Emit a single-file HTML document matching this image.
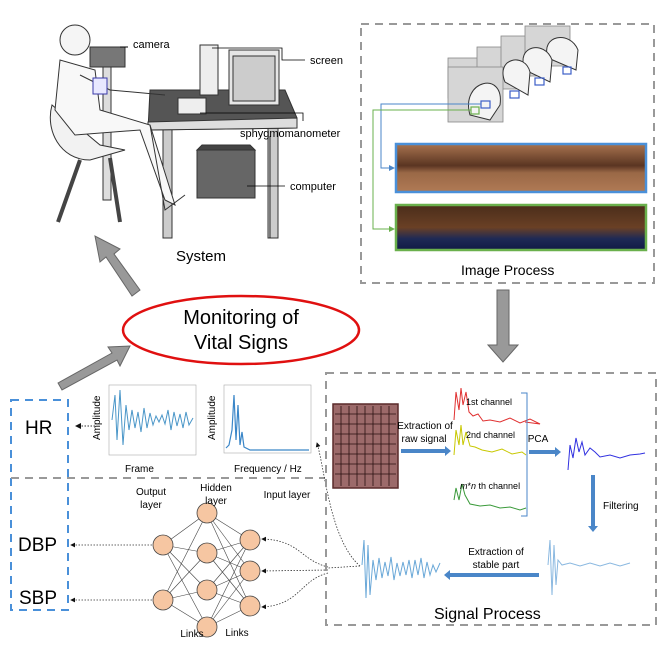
<!DOCTYPE html>
<html><head><meta charset="utf-8"><style>
body{margin:0;background:#fff}
svg{display:block;font-family:"Liberation Sans",sans-serif}
</style></head><body>
<svg width="664" height="664" viewBox="0 0 664 664" xmlns="http://www.w3.org/2000/svg">
<defs>
<marker id="ah" markerWidth="6" markerHeight="6" refX="5" refY="3" orient="auto"><path d="M0,0L6,3L0,6z" fill="#111"/></marker>
<marker id="bh" markerWidth="6" markerHeight="6" refX="5" refY="3" orient="auto"><path d="M0,0L6,3L0,6z" fill="#4a86c8"/></marker>
<marker id="gh" markerWidth="6" markerHeight="6" refX="5" refY="3" orient="auto"><path d="M0,0L6,3L0,6z" fill="#6ab04c"/></marker>
<linearGradient id="br" x1="0" y1="0" x2="0" y2="1"><stop offset="0" stop-color="#a8734f"/><stop offset=".45" stop-color="#5a3522"/><stop offset=".6" stop-color="#9a6846"/><stop offset="1" stop-color="#b07a55"/></linearGradient>
<linearGradient id="bg2" x1="0" y1="0" x2="0" y2="1"><stop offset="0" stop-color="#4a2d1a"/><stop offset=".5" stop-color="#6a4025"/><stop offset=".75" stop-color="#1e2a55"/><stop offset="1" stop-color="#101a45"/></linearGradient>
</defs>

<!-- SYSTEM illustration -->
<g stroke="#333" stroke-width="1">
<rect x="163" y="128" width="9" height="110" fill="#ccc"/>
<rect x="268" y="128" width="10" height="110" fill="#ccc"/>
<polygon points="150,90 285,90 297,118 297,128 148,130" fill="#555"/>
<polygon points="148,122 297,118 297,128 148,130" fill="#ddd"/>
<rect x="197" y="150" width="58" height="48" fill="#666"/>
<polygon points="197,150 255,150 250,145 202,145" fill="#444"/>
<rect x="200" y="45" width="18" height="50" fill="#eee"/>
<rect x="229" y="50" width="50" height="55" fill="#e6e6e6"/>
<rect x="233" y="56" width="42" height="45" fill="#ccc"/>
<rect x="178" y="98" width="28" height="16" fill="#eee"/>
<rect x="90" y="47" width="35" height="20" fill="#777"/>
<rect x="103" y="67" width="8" height="133" fill="#ddd"/>
<path d="M52,105 C45,130 60,160 90,160 L125,150 L100,145 Z" fill="#f2f2f2"/>
<line x1="80" y1="160" x2="58" y2="222" stroke="#444" stroke-width="4"/>
<line x1="110" y1="158" x2="120" y2="222" stroke="#444" stroke-width="4"/>
<circle cx="75" cy="40" r="15" fill="#f5f5f5"/>
<path d="M60,60 L55,110 L75,135 L140,130 L165,200 L175,205 L150,125 L100,110 L95,70 Z" fill="#f8f8f8"/>
<path d="M80,75 L110,90 L165,95" fill="none"/>
<rect x="93" y="78" width="14" height="16" fill="#e8e8ff" stroke="#3a3aaa"/>
<path d="M150,125 L165,210 L185,195" fill="none"/>
</g>
<line x1="120" y1="47" x2="128" y2="47" stroke="#000"/>
<text x="133" y="48" font-size="11">camera</text>
<path d="M212,48 L282,48 L282,60 L305,60" fill="none" stroke="#000" stroke-width=".8"/>
<text x="310" y="64" font-size="11">screen</text>
<path d="M200,113 L303,113 L303,121" fill="none" stroke="#000" stroke-width=".8"/>
<text x="240" y="137" font-size="11">sphygmomanometer</text>
<line x1="270" y1="136" x2="270" y2="238" stroke="#000" stroke-width=".8"/>
<line x1="247" y1="186" x2="285" y2="186" stroke="#000" stroke-width=".8"/>
<text x="290" y="190" font-size="11">computer</text>
<text x="176" y="261" font-size="15">System</text>

<!-- Image Process box -->
<rect x="361" y="24" width="293" height="259" fill="none" stroke="#999" stroke-width="2" stroke-dasharray="8,6"/>
<g stroke="#888" stroke-width=".8">
<rect x="448" y="58" width="46" height="40" fill="#d6d6d6"/>
<rect x="477" y="47" width="48" height="42" fill="#d6d6d6"/>
<rect x="501" y="36" width="38" height="40" fill="#d6d6d6"/>
<rect x="525" y="26" width="45" height="40" fill="#d6d6d6"/>
<rect x="448" y="67" width="55" height="55" fill="#d6d6d6"/>
</g>
<g fill="#f4f4f4" stroke="#333" stroke-width="1">
<path d="M548,58 C540,35 570,30 578,50 L576,70 Z"/>
<path d="M525,70 C515,45 545,40 552,60 L550,82 Z"/>
<path d="M505,82 C495,58 525,52 530,72 L528,95 Z"/>
<path d="M470,115 C460,80 505,70 500,105 L490,120 Z"/>
</g>
<g fill="none" stroke="#3d5fc7" stroke-width="1.2">
<rect x="563" y="67" width="8" height="7"/><rect x="535" y="78" width="9" height="7"/><rect x="510" y="91" width="9" height="7"/><rect x="481" y="101" width="9" height="7"/>
</g>
<rect x="471" y="107" width="8" height="7" fill="none" stroke="#6ab04c" stroke-width="1.2"/>
<path d="M481,104 L381,104 L381,168 L394,168" fill="none" stroke="#4a86c8" stroke-width="1" marker-end="url(#bh)"/>
<path d="M471,110 L373,110 L373,229 L394,229" fill="none" stroke="#6ab04c" stroke-width="1" marker-end="url(#gh)"/>
<rect x="396" y="144" width="250" height="48" fill="url(#br)" stroke="#4a90d9" stroke-width="2.5"/>
<rect x="396" y="205" width="250" height="45" fill="url(#bg2)" stroke="#6ab04c" stroke-width="2.5"/>
<text x="461" y="275" font-size="14">Image Process</text>

<!-- gray arrows -->
<polygon points="140,290 114,254 120,249 95,236 100,262 106,257 132,296" fill="#999" stroke="#666"/>
<polygon points="58,383 112,353 108,347 130,346 120,366 117,360 62,390" fill="#999" stroke="#666"/>
<polygon points="497,290 509,290 509,345 518,345 503,362 488,345 497,345" fill="#999" stroke="#666"/>

<!-- ellipse -->
<ellipse cx="241" cy="330" rx="118" ry="34" fill="#fff" stroke="#e01010" stroke-width="2.5"/>
<text x="241" y="324" font-size="20" text-anchor="middle">Monitoring of</text>
<text x="241" y="349" font-size="20" text-anchor="middle">Vital Signs</text>

<!-- left boxes -->
<rect x="11" y="400" width="57" height="210" fill="none" stroke="#4a90d9" stroke-width="2" stroke-dasharray="8,6"/>
<line x1="11" y1="478" x2="325" y2="478" stroke="#999" stroke-width="2" stroke-dasharray="8,6"/>
<text x="25" y="434" font-size="19">HR</text>
<text x="18" y="551" font-size="19">DBP</text>
<text x="19" y="604" font-size="19">SBP</text>

<!-- charts -->
<rect x="109" y="385" width="87" height="70" fill="none" stroke="#aaa" stroke-width=".6"/>
<polyline fill="none" stroke="#4a96c8" stroke-width="1" points="112,420 115,395 117,440 120,390 123,445 126,405 129,430 132,410 135,428 138,412 141,432 144,408 147,428 150,413 153,425 156,416 159,422 162,415 165,424 168,410 171,430 174,412 177,426 180,414 183,428 186,412 189,425 193,418"/>
<text x="125" y="472" font-size="10">Frame</text>
<text x="100" y="440" font-size="10" transform="rotate(-90 100 440)">Amplitude</text>
<rect x="224" y="385" width="87" height="68" fill="none" stroke="#aaa" stroke-width=".6"/>
<polyline fill="none" stroke="#3a86c8" stroke-width="1.2" points="226,448 229,445 232,430 234,395 236,440 238,405 240,445 242,432 244,447 250,450 309,450"/>
<text x="234" y="472" font-size="10">Frequency / Hz</text>
<text x="215" y="440" font-size="10" transform="rotate(-90 215 440)">Amplitude</text>
<line x1="95" y1="426" x2="76" y2="426" stroke="#333" stroke-dasharray="1.5,1.5" marker-end="url(#ah)"/>

<!-- NN -->
<g stroke="#444" stroke-width=".6">
<line x1="163" y1="545" x2="207" y2="513"/><line x1="163" y1="545" x2="207" y2="553"/><line x1="163" y1="545" x2="207" y2="590"/><line x1="163" y1="545" x2="207" y2="627"/>
<line x1="163" y1="600" x2="207" y2="513"/><line x1="163" y1="600" x2="207" y2="553"/><line x1="163" y1="600" x2="207" y2="590"/><line x1="163" y1="600" x2="207" y2="627"/>
<line x1="250" y1="540" x2="207" y2="513"/><line x1="250" y1="540" x2="207" y2="553"/><line x1="250" y1="540" x2="207" y2="590"/><line x1="250" y1="540" x2="207" y2="627"/>
<line x1="250" y1="571" x2="207" y2="513"/><line x1="250" y1="571" x2="207" y2="553"/><line x1="250" y1="571" x2="207" y2="590"/><line x1="250" y1="571" x2="207" y2="627"/>
<line x1="250" y1="606" x2="207" y2="513"/><line x1="250" y1="606" x2="207" y2="553"/><line x1="250" y1="606" x2="207" y2="590"/><line x1="250" y1="606" x2="207" y2="627"/>
</g>
<g fill="#f6c6a2" stroke="#444" stroke-width=".8">
<circle cx="163" cy="545" r="10"/><circle cx="163" cy="600" r="10"/>
<circle cx="207" cy="513" r="10"/><circle cx="207" cy="553" r="10"/><circle cx="207" cy="590" r="10"/><circle cx="207" cy="627" r="10"/>
<circle cx="250" cy="540" r="10"/><circle cx="250" cy="571" r="10"/><circle cx="250" cy="606" r="10"/>
</g>
<g font-size="10" text-anchor="middle">
<text x="151" y="495">Output</text><text x="151" y="508">layer</text>
<text x="216" y="491">Hidden</text><text x="216" y="504">layer</text>
<text x="287" y="498">Input layer</text>
<text x="192" y="637">Links</text><text x="237" y="636">Links</text>
</g>
<g fill="none" stroke="#333" stroke-width=".8" stroke-dasharray="1.5,1.5">
<line x1="152" y1="545" x2="71" y2="545" marker-end="url(#ah)"/>
<line x1="152" y1="600" x2="71" y2="600" marker-end="url(#ah)"/>
<path d="M328,567 C300,560 300,540 262,539" marker-end="url(#ah)"/>
<path d="M328,570 L262,571" marker-end="url(#ah)"/>
<path d="M328,573 C300,580 300,605 262,607" marker-end="url(#ah)"/>
<path d="M360,566 L328,568"/>
<path d="M360,566 C330,540 325,470 317,443" marker-end="url(#ah)"/>
</g>

<!-- Signal Process -->
<rect x="326" y="373" width="330" height="252" fill="none" stroke="#999" stroke-width="2" stroke-dasharray="8,6"/>
<rect x="333" y="404" width="65" height="84" fill="#9c6a6a" stroke="#5a2a2a" stroke-width="1.5"/>
<g stroke="#2a1212" stroke-width=".8">
<line x1="341" y1="406" x2="341" y2="486"/><line x1="349" y1="406" x2="349" y2="486"/><line x1="357" y1="406" x2="357" y2="486"/><line x1="365" y1="406" x2="365" y2="486"/><line x1="373" y1="406" x2="373" y2="486"/><line x1="381" y1="406" x2="381" y2="486"/><line x1="389" y1="406" x2="389" y2="486"/>
<line x1="335" y1="414" x2="396" y2="414"/><line x1="335" y1="424" x2="396" y2="424"/><line x1="335" y1="434" x2="396" y2="434"/><line x1="335" y1="444" x2="396" y2="444"/><line x1="335" y1="454" x2="396" y2="454"/><line x1="335" y1="464" x2="396" y2="464"/><line x1="335" y1="474" x2="396" y2="474"/>
</g>
<text x="425" y="429" font-size="10" text-anchor="middle">Extraction of</text>
<text x="424" y="442" font-size="10" text-anchor="middle">raw signal</text>
<polygon points="401,449 445,449 445,446 451,451 445,456 445,453 401,453" fill="#4a86c8"/>
<polyline fill="none" stroke="#e03030" stroke-width="1" points="454,420 456,392 459,410 461,388 463,405 466,392 469,412 473,416 478,414 483,421 490,420 500,422 510,418 520,423 530,419 540,424 525,422"/>
<polyline fill="none" stroke="#c8c800" stroke-width="1" points="454,455 456,430 459,445 461,425 463,445 466,432 470,446 475,447 482,450 492,452 502,449 512,454 522,452 526,455"/>
<polyline fill="none" stroke="#3a9a3a" stroke-width="1" points="454,500 456,488 459,500 462,484 465,495 470,504 480,506 490,505 500,508 510,507 520,510 526,508"/>
<text x="466" y="405" font-size="9">1st channel</text>
<text x="466" y="438" font-size="9">2nd channel</text>
<text x="460" y="489" font-size="9"><tspan font-style="italic">m</tspan>*<tspan font-style="italic">n</tspan> th channel</text>
<path d="M521,393 L527,393 L527,516 L521,516" fill="none" stroke="#4a86c8" stroke-width="1"/>
<polygon points="529,450 555,450 555,447 561,452 555,457 555,454 529,454" fill="#4a86c8"/>
<text x="538" y="442" font-size="10" text-anchor="middle">PCA</text>
<polyline fill="none" stroke="#3030e0" stroke-width="1" points="568,470 570,445 573,458 576,438 579,452 582,442 585,455 590,448 595,452 600,457 610,455 620,458 630,455 640,454 645,453"/>
<polygon points="591,475 595,475 595,526 598,526 593,532 588,526 591,526" fill="#4a86c8"/>
<text x="603" y="509" font-size="10">Filtering</text>
<polyline fill="none" stroke="#8ab8e0" stroke-width="1" points="548,565 550,540 552,595 554,545 556,585 558,560 562,565 570,563 580,566 590,563 600,566 610,563 620,566 630,563"/>
<text x="496" y="555" font-size="10" text-anchor="middle">Extraction of</text>
<text x="496" y="568" font-size="10" text-anchor="middle">stable part</text>
<polygon points="539,573 450,573 450,570 444,575 450,580 450,577 539,577" fill="#4a86c8"/>
<polyline fill="none" stroke="#6aa8d8" stroke-width="1" points="362,565 364,540 366,598 368,545 370,595 373,560 376,580 379,558 382,578 385,562 388,576 391,557 394,580 397,563 400,576 403,562 406,575 409,560 412,578 415,560 418,575 421,558 424,578 427,562 430,575 433,565 436,572 440,563"/>
<text x="434" y="619" font-size="16">Signal Process</text>
</svg>
</body></html>
